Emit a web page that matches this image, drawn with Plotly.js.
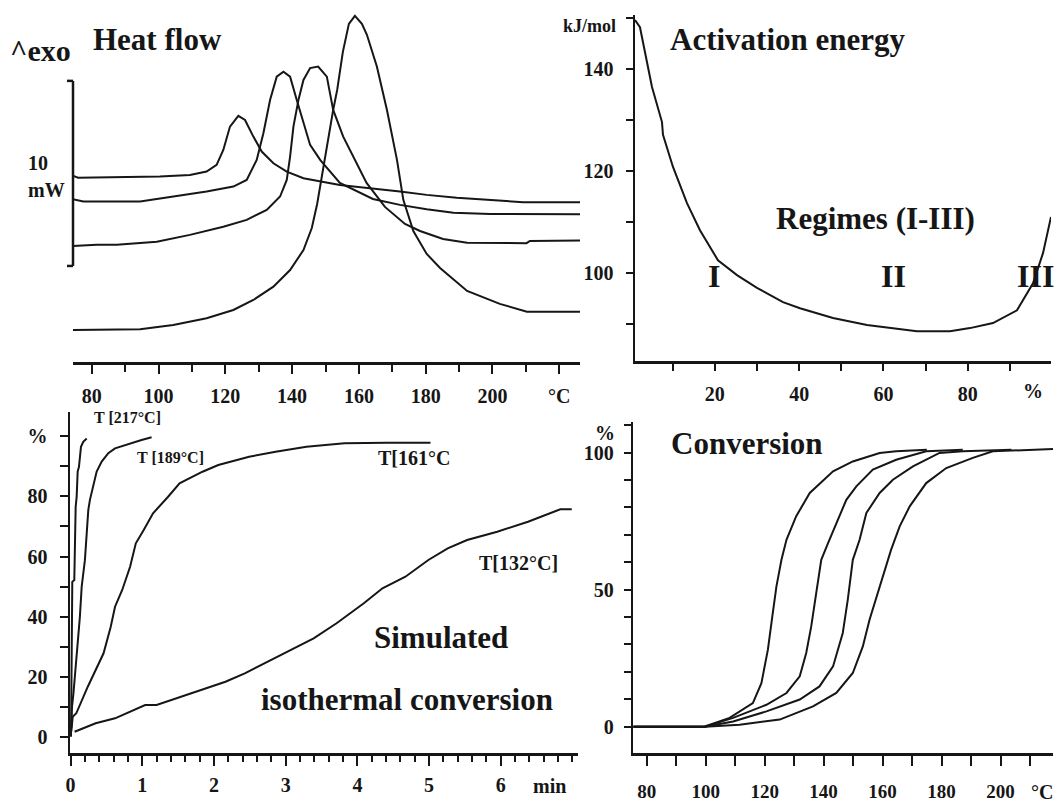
<!DOCTYPE html>
<html>
<head>
<meta charset="utf-8">
<script src="https://cdn.plot.ly/plotly-3.0.1.min.js"></script>
<style>html,body{margin:0;padding:0;background:#fff;}#chart{width:1056px;height:805px;}</style>
</head>
<body>
<div id="chart"></div>
<script>
// ---------- Heat flow (DSC) : temperature in °C, heat flow in mW ----------
const hfTempA = [74.3, 75.9, 100.4, 109.4, 114.4, 117.4, 119.4, 121.4, 123.9, 125.9, 128.4, 130.9, 134.4, 138.4, 143.4, 154.3, 172.3, 180.3, 189.3, 199.3, 209.2, 226.2];
const hfA     = [9.88, 9.77, 9.83, 9.92, 10.10, 10.46, 11.27, 12.53, 13.11, 12.89, 11.99, 11.18, 10.55, 10.10, 9.74, 9.38, 9.02, 8.84, 8.69, 8.57, 8.44, 8.44];
const hfTempB = [74.3, 77.5, 94.5, 104.4, 114.4, 122.4, 126.4, 129.4, 131.4, 133.4, 135.4, 137.4, 139.4, 141.4, 143.4, 145.4, 148.4, 154.3, 164.2, 172.3, 180.3, 188.3, 199.3, 226.2];
const hfB     = [8.61, 8.48, 8.48, 8.75, 9.02, 9.29, 9.65, 10.73, 12.17, 13.97, 15.23, 15.50, 15.23, 13.97, 12.71, 11.54, 10.73, 9.49, 8.62, 8.30, 8.06, 7.88, 7.81, 7.79];
const hfTempC = [74.3, 81.5, 87.5, 99.5, 109.4, 119.4, 126.4, 132.4, 136.4, 138.4, 139.4, 140.4, 141.9, 143.4, 145.4, 147.8, 150.4, 152.3, 155.3, 157.3, 162.3, 167.8, 173.8, 178.3, 185.2, 192.4, 210.2, 211.2, 226.2];
const hfC     = [6.08, 6.14, 6.14, 6.31, 6.68, 7.12, 7.49, 8.03, 8.75, 9.65, 10.91, 12.53, 13.97, 15.05, 15.69, 15.77, 15.23, 13.43, 11.99, 11.27, 9.49, 8.19, 7.27, 6.89, 6.46, 6.26, 6.23, 6.35, 6.37];
const hfTempD = [74.3, 94.5, 104.4, 114.4, 122.4, 128.4, 134.4, 139.4, 143.4, 145.9, 147.5, 149.3, 150.8, 152.3, 153.5, 155.2, 157.0, 158.8, 160.9, 162.4, 165.4, 168.4, 171.4, 173.3, 176.3, 180.3, 184.3, 192.4, 202.2, 210.3, 226.2];
const hfD     = [1.54, 1.58, 1.81, 2.17, 2.62, 3.16, 3.88, 4.78, 5.86, 7.05, 8.35, 10.30, 11.81, 13.43, 14.51, 16.57, 18.08, 18.51, 18.08, 17.49, 15.76, 13.43, 10.73, 8.57, 6.89, 5.65, 4.89, 3.65, 2.95, 2.53, 2.53];
const hfTickVals = [80, 100, 120, 140, 160, 180, 200, 220];
const hfTickText = ['80', '100', '120', '140', '160', '180', '200', '°C'];

// ---------- Activation energy vs conversion ----------
const eaConv = [1.07, 2.25, 5.10, 7.47, 7.71, 10.08, 13.40, 16.48, 20.75, 25.26, 30.0, 36.17, 40.20, 48.03, 56.09, 61.55, 67.95, 75.78, 80.52, 85.98, 91.67, 95.47, 97.84, 99.74];
const eaVal  = [149.6, 148.2, 136.5, 129.6, 127.1, 120.8, 113.7, 108.4, 102.5, 99.6, 97.1, 94.3, 93.1, 91.2, 89.8, 89.2, 88.6, 88.6, 89.2, 90.2, 92.7, 98.0, 103.9, 111.0];
const eaXTickVals = [10, 20, 30, 40, 50, 60, 70, 80, 90];
const eaXTickText = ['', '20', '', '40', '', '60', '', '80', ''];
const eaYTickVals = [90, 100, 110, 120, 130, 140, 150];
const eaYTickText = ['', '100', '', '120', '', '140', ''];

// ---------- Simulated isothermal conversion (min, %) ----------
const t217 = [0.006, 0.015, 0.024, 0.052, 0.071, 0.085, 0.099, 0.117, 0.145, 0.177, 0.225];
const c217 = [0.2, 20.1, 51.6, 52.2, 76.5, 79.9, 88.2, 89.8, 96.4, 98.1, 99.2];
const t189 = [0.01, 0.02, 0.04, 0.06, 0.10, 0.13, 0.155, 0.20, 0.225, 0.247, 0.27, 0.32, 0.364, 0.434, 0.526, 0.62, 0.76, 0.90, 0.99, 1.13];
const c189 = [3.0, 10.2, 14.6, 20.1, 30.1, 40.0, 50.0, 58.8, 67.7, 75.4, 78.8, 84.3, 88.2, 91.5, 94.3, 95.9, 97.0, 98.1, 98.7, 99.6];
const t161 = [0.01, 0.03, 0.08, 0.24, 0.46, 0.56, 0.62, 0.72, 0.83, 0.91, 1.02, 1.15, 1.36, 1.52, 1.84, 2.06, 2.49, 2.86, 3.29, 3.82, 4.41, 5.02];
const c161 = [2.0, 6.84, 7.97, 16.79, 27.88, 36.71, 43.35, 48.89, 56.62, 64.39, 68.80, 74.34, 79.85, 84.30, 88.15, 90.37, 93.13, 94.79, 96.45, 97.58, 97.78, 97.78];
const t132 = [0.056, 0.35, 0.62, 1.04, 1.20, 1.68, 2.16, 2.43, 2.75, 3.07, 3.39, 3.71, 4.09, 4.35, 4.67, 4.99, 5.26, 5.53, 5.95, 6.38, 6.83, 6.99];
const c132 = [1.86, 4.65, 6.31, 10.72, 10.72, 14.60, 18.45, 21.24, 25.09, 28.97, 32.86, 37.84, 44.47, 49.45, 53.30, 58.85, 62.73, 65.48, 68.24, 71.56, 75.67, 75.67];
const isoXTickVals = [0, 1, 2, 3, 4, 5, 6];
const isoYTickVals = [0, 10, 20, 30, 40, 50, 60, 70, 80, 90, 100];
const isoYTickText = ['0', '', '20', '', '40', '', '60', '', '80', '', '%'];

// ---------- Conversion vs temperature ----------
const cvT1 = [75.45, 99.7, 108.1, 116, 118.9, 121.1, 122.6, 124, 125.7, 127.4, 130.7, 135.3, 143.2, 149.9, 159, 164.6, 175];
const cv1  = [0, 0.1, 3.2, 8.6, 15.9, 28.1, 40.3, 51.2, 60.9, 68.2, 76.8, 85.3, 93.2, 96.8, 99.9, 100.5, 101.1];
const cvT2 = [75.45, 99.7, 109.3, 120.6, 127.4, 131.9, 134.1, 135.8, 137.5, 139.2, 141.5, 144.3, 147.7, 151.1, 156.7, 164.6, 174.8, 187.2];
const cv2  = [0, 0, 3.2, 8.0, 12.3, 18.4, 26.9, 36.6, 48.8, 60.9, 67, 74.3, 82.8, 87.7, 93.8, 97.4, 100.5, 101.1];
const cvT3 = [75.45, 99.7, 109.3, 120.6, 131.9, 138.6, 143.2, 146.5, 148.2, 149.9, 152.2, 154.5, 159, 163.5, 170.3, 179.3, 187.2, 203.7];
const cv3  = [0, 0, 1.9, 5.6, 9.9, 14.7, 22, 34.2, 46.4, 60.9, 68.2, 78, 85.3, 90.1, 95, 99.9, 100.5, 101.1];
const cvT4 = [75.45, 99.7, 111.5, 125.1, 136.4, 144.3, 149.9, 153.3, 155.6, 158.4, 160.7, 162.9, 165.8, 169.2, 174.8, 181.6, 190.6, 197.4, 217.8];
const cv4  = [0, 0, 0.7, 2.6, 7.4, 12.3, 19.6, 29.3, 39.1, 48.8, 56.1, 64.6, 73.1, 80.4, 88.9, 94.4, 98.1, 100.5, 101.3];
const cvXTickVals = [80, 90, 100, 110, 120, 130, 140, 150, 160, 170, 180, 190, 200, 210];
const cvXTickText = ['80', '', '100', '', '120', '', '140', '', '160', '', '180', '', '200', ''];
const cvYTickVals = [0, 10, 20, 30, 40, 50, 60, 70, 80, 90, 100, 110];
const cvYTickText = ['0', '', '', '', '', '50', '', '', '', '', '100', ''];

// ---------- drawing ----------
const W = 1056, H = 805;
const fx = p => p / W;
const fy = p => 1 - p / H;
const INK = '#161616';
const FONT = 'Liberation Serif, Times New Roman, serif';
const lineStyle = {color: INK, width: 2};

function tr(x, y, xa, ya) {
  return {x: x, y: y, xaxis: xa, yaxis: ya, type: 'scatter', mode: 'lines', line: lineStyle, hoverinfo: 'skip', showlegend: false};
}

const data = [
  tr(hfTempA, hfA, 'x', 'y'), tr(hfTempB, hfB, 'x', 'y'), tr(hfTempC, hfC, 'x', 'y'), tr(hfTempD, hfD, 'x', 'y'),
  tr(eaConv, eaVal, 'x2', 'y2'),
  tr(t217, c217, 'x3', 'y3'), tr(t189, c189, 'x3', 'y3'), tr(t161, c161, 'x3', 'y3'), tr(t132, c132, 'x3', 'y3'),
  tr(cvT1, cv1, 'x4', 'y4'), tr(cvT2, cv2, 'x4', 'y4'), tr(cvT3, cv3, 'x4', 'y4'), tr(cvT4, cv4, 'x4', 'y4')
];

const axBase = {showgrid: false, zeroline: false, showline: true, linecolor: INK, linewidth: 2.5,
  ticks: 'outside', tickcolor: INK, tickwidth: 2, tickmode: 'array',
  tickfont: {family: FONT, size: 20, color: INK, weight: 'bold'}, fixedrange: true};

const layout = {
  width: W, height: H, autosize: false,
  margin: {l: 0, r: 0, t: 0, b: 0, pad: 0},
  paper_bgcolor: '#fff', plot_bgcolor: 'rgba(0,0,0,0)',
  font: {family: FONT, size: 20, color: INK, weight: 'bold'},
  showlegend: false,
  xaxis: Object.assign({}, axBase, {domain: [fx(73), fx(580)], range: [74.4, 226.2], anchor: 'y',
    tickvals: hfTickVals, ticktext: hfTickText, ticklen: 9,
    minor: {tickmode: 'array', tickvals: [90, 110, 130, 150, 170, 190, 210], ticks: 'outside', ticklen: 7, tickwidth: 2, tickcolor: INK},
    ticklabelstandoff: 5}),
  yaxis: {domain: [fy(362), fy(5)], range: [-0.19, 19.1], anchor: 'x', visible: false, fixedrange: true},
  xaxis2: Object.assign({}, axBase, {domain: [fx(635), fx(1051)], range: [1.07, 99.74], anchor: 'y2',
    tickvals: eaXTickVals, ticktext: eaXTickText, ticklen: 7, ticklabelstandoff: 6}),
  yaxis2: Object.assign({}, axBase, {domain: [fy(361), fy(15)], range: [82.75, 150.6], anchor: 'x2',
    tickvals: eaYTickVals, ticktext: eaYTickText, ticklen: 7, ticklabelstandoff: 8}),
  xaxis3: Object.assign({}, axBase, {domain: [fx(70), fx(578)], range: [-0.008, 7.077], anchor: 'y3',
    tickvals: isoXTickVals, ticklen: 10,
    minor: {dtick: 0.2, tick0: 0, ticks: 'outside', ticklen: 6, tickwidth: 2, tickcolor: INK},
    ticklabelstandoff: 2}),
  yaxis3: Object.assign({}, axBase, {domain: [fy(753.3), fy(411.7)], range: [-5.31, 108.07], anchor: 'x3',
    tickvals: isoYTickVals, ticktext: isoYTickText, ticklen: 8, ticklabelstandoff: 8}),
  xaxis4: Object.assign({}, axBase, {domain: [fx(633.3), fx(1053)], range: [75.45, 217.8], anchor: 'y4',
    tickvals: cvXTickVals, ticktext: cvXTickText, ticklen: 10, ticklabelstandoff: 9,
    tickfont: {family: FONT, size: 19, color: INK, weight: 'bold'}}),
  yaxis4: Object.assign({}, axBase, {domain: [fy(753.3), fy(421.7)], range: [-9.71, 111.3], anchor: 'x4',
    tickvals: cvYTickVals, ticktext: cvYTickText, ticklen: 7, ticklabelstandoff: 6}),
  shapes: [
    {type: 'line', xref: 'paper', yref: 'y', x0: fx(73), x1: fx(73), y0: 5, y1: 15, line: {color: INK, width: 2.5}},
    {type: 'line', xref: 'paper', yref: 'y', x0: fx(67), x1: fx(73), y0: 15, y1: 15, line: {color: INK, width: 2.5}},
    {type: 'line', xref: 'paper', yref: 'y', x0: fx(67), x1: fx(73), y0: 5, y1: 5, line: {color: INK, width: 2.5}}
  ],
  annotations: []
};

function ann(text, px, py, size) {
  layout.annotations.push({text: text, xref: 'paper', yref: 'paper', x: fx(px), y: fy(py),
    xanchor: 'center', yanchor: 'middle', showarrow: false,
    font: {family: FONT, size: size, color: INK, weight: 'bold'}});
}
ann('^exo', 40, 50, 30);
ann('Heat flow', 157, 40, 31);
ann('10', 38, 163, 20);
ann('mW', 46, 190, 20);
ann('kJ/mol', 589, 26, 18);
ann('Activation energy', 788, 40, 31);
ann('Regimes (I-III)', 875, 218, 31);
ann('I', 713.5, 276, 32);
ann('II', 893, 276, 32);
ann('III', 1035.5, 276, 32);
ann('%', 1033, 391, 20);
ann('T [217°C]', 127, 417, 16);
ann('T [189°C]', 170, 457, 16);
ann('T[161°C', 414, 458, 20);
ann('T[132°C]', 518, 563, 20);
ann('Simulated', 441, 637, 31);
ann('isothermal conversion', 407, 699, 31);
ann('min', 549, 786, 20);
ann('%', 605, 433, 20);
ann('Conversion', 747, 443, 31);
ann('°C', 1042, 792, 20);

Plotly.newPlot('chart', data, layout, {staticPlot: true, displayModeBar: false});
</script>
</body>
</html>
